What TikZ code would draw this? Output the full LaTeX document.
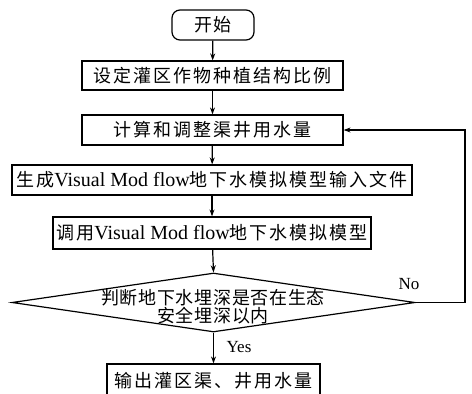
\documentclass[tikz,border=0pt]{standalone}
\usepackage{fontspec}
\setmainfont{Liberation Serif}
\newfontfamily\cjk[LetterSpace=11]{Noto Sans CJK SC}
\newfontfamily\cjkd[LetterSpace=4]{Noto Sans CJK SC}
\usetikzlibrary{arrows.meta,shapes.geometric}
\newcommand{\lat}[1]{{\rmfamily\fontsize{20}{22}\selectfont #1}}
\tikzset{
  box/.style={draw, line width=1.2pt, inner sep=0pt, align=center,
    font=\fontsize{18}{20}\selectfont\cjk},
  startbox/.style={box, rounded corners=8pt},
  decision/.style={draw, line width=1.2pt, diamond, inner sep=0pt},
  flow/.style={line width=1.2pt, -{Stealth[length=7pt,width=5pt]}},
  lbl/.style={font=\fontsize{17}{19}\selectfont, inner sep=0pt}
}
\begin{document}
\begin{tikzpicture}[x=1pt,y=-1pt]
\useasboundingbox (0,0) rectangle (472,394);
\node[startbox, minimum width=82pt, minimum height=30pt] (s) at (213,25) {开始};
\node[box, minimum width=261pt, minimum height=29pt] (b2) at (212.5,75.5) {设定灌区作物种植结构比例};
\node[box, minimum width=261pt, minimum height=30pt] (b3) at (212.5,130) {计算和调整渠井用水量};
\node[box, minimum width=400pt, minimum height=30pt] (b4) at (212,180) {生成\lat{Visual Mod flow}地下水模拟模型输入文件};
\node[box, minimum width=318pt, minimum height=32pt] (b5) at (212,233) {调用\lat{Visual Mod flow}地下水模拟模型};
\node[decision, minimum width=403pt, minimum height=59pt] (d) at (213.5,302.5) {};
\node[font=\fontsize{18}{18}\selectfont\cjkd, align=center, inner sep=0pt] (dt) at (213,307) {判断地下水埋深是否在生态\\安全埋深以内};
\node[box, minimum width=213pt, minimum height=34pt] (b6) at (213.5,381) {输出灌区渠、井用水量};
\coordinate (c1) at (465,302.5);
\coordinate (c2) at (465,130);
\draw[flow] (s) -- (b2);
\draw[flow] (b2) -- (b3);
\draw[flow] (b3) -- (b4);
\draw[flow] (b4) -- (b5);
\draw[flow] (b5) -- (d.north);
\draw[flow] (d.south) -- (b6);
\draw[flow] (d.east) -- (c1) -- (c2) -- (b3.east);
\node[lbl] (no) at (409,284) {No};
\node[lbl] (yes) at (239,347) {Yes};
\end{tikzpicture}
\end{document}
